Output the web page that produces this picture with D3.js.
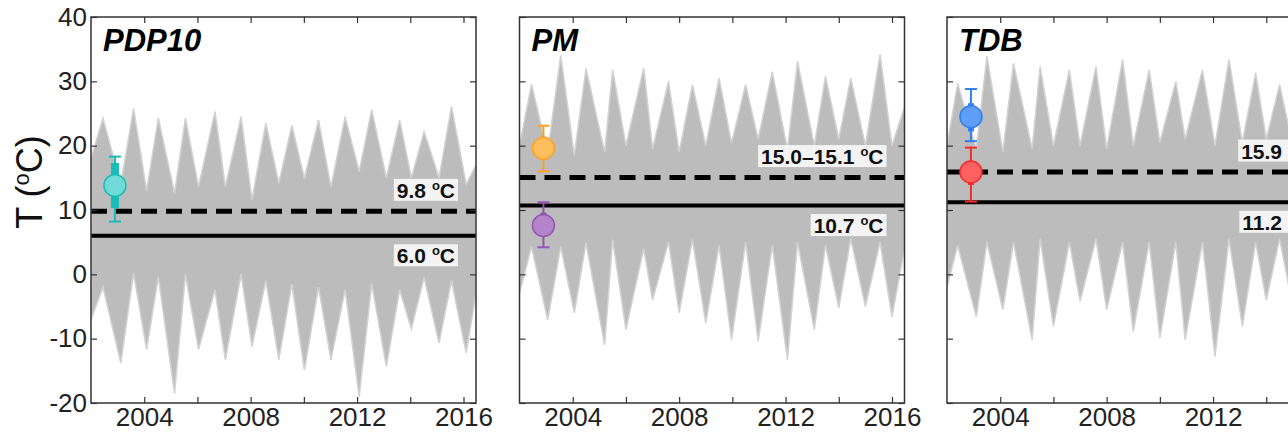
<!DOCTYPE html>
<html>
<head>
<meta charset="utf-8">
<script src="https://cdnjs.cloudflare.com/ajax/libs/d3/7.8.5/d3.min.js"></script>
<style>
body{margin:0;background:#fff;overflow:hidden}
svg{display:block;font-family:"Liberation Sans",Arial,sans-serif}
</style>
</head>
<body>
<svg width="1288" height="432"></svg>
<script>
// panel names
var panelNames=["PDP10","PM","TDB"];

// grey temperature band: decimal year, upper and lower edge (deg C)
var times1=[2002.0,2002.45,2003.12,2003.6,2004.09,2004.53,2005.14,2005.55,2006.04,2006.66,2007.05,2007.64,2008.05,2008.57,2009.06,2009.55,2010.02,2010.55,2011.02,2011.55,2012.08,2012.55,2013.1,2013.6,2014.04,2014.52,2015.08,2015.55,2016.1,2016.47];
var upper1=[18,24.3,14,25.8,13,24.3,12.6,24.3,13.6,25.3,13.6,24.5,11.6,23.5,14.2,23.2,14.9,24,13.6,24.5,16,25.6,15,24,15,22.2,15,26.1,14,17];
var lower1=[-7,-2,-13.8,0.2,-11.7,-0.4,-18.5,0,-11.7,-2.4,-13.3,0,-11.2,-1,-13.3,-1.5,-14.9,-2,-13.3,-2.4,-19,-1.5,-14.3,-2.4,-8.5,-0.5,-10.7,-1,-12.2,-3];

var times2=[2002.0,2002.45,2003.06,2003.55,2004.06,2004.5,2005.2,2005.5,2006.0,2006.67,2007.0,2007.6,2008.0,2008.5,2009.0,2009.5,2009.97,2010.5,2010.97,2011.5,2012.07,2012.45,2013.08,2013.5,2014.0,2014.45,2015.0,2015.55,2016.0,2016.47];
var upper2=[20,29.5,19,34,18.5,32,19,31.8,20,32.1,19.5,30,19,29.5,20,30.5,20.4,29.5,21,31.5,19.4,33.1,20,30.8,21,30.5,20,34.2,20,26];
var lower2=[-3,4.3,-7.1,4.3,-6,4.9,-11,5.4,-8.6,4,-4,5,-6,5.4,-7.6,4.5,-10.2,5,-10.4,4.5,-13.3,5,-8.6,4.5,-5.2,5.5,-5,5,-6.6,4];

var times3=[2002.0,2002.4,2003.1,2003.5,2004.1,2004.5,2005.2,2005.5,2006.0,2006.6,2007.0,2007.6,2008.0,2008.6,2009.0,2009.6,2010.0,2010.6,2010.95,2011.6,2012.07,2012.6,2013.1,2013.6,2014.0,2014.5,2015.0,2015.55,2016.0,2016.47];
var upper3=[20,29.7,19.5,33.9,19,32.8,19.5,32.3,20,31.8,20,32.3,19.5,33.4,20,31.8,20.5,30,21,31.8,20,33.4,20.5,31.3,21,29.5,20,34,20,26];
var lower3=[-2,4.5,-6.6,5,-5.5,5,-10.2,5.5,-8.1,5,-4.2,5.5,-5.5,5,-8.9,5,-9.9,5,-10.2,5,-12.8,5.5,-8.1,5,-4,5.5,-5,5,-6.5,4];

// reference lines
var dashedVals=[9.8,15.05,15.9];
var solidVals=[6.0,10.7,11.2];
var dashedLabels=["9.8 ","15.0\u201315.1 ","15.9 "];
var solidLabels=["6.0 ","10.7 ","11.2 "];

// points with error bars
var pointPanel=[0,1,1,2,2];
var pointYear=[2002.9,2002.9,2002.9,2002.9,2002.9];
var pointMean=[13.8,19.6,7.6,24.5,15.9];
var pointBoxLo=[10.3,17.8,6.1,22.2,13.9];
var pointBoxHi=[17.3,21.4,9.6,26.6,17.5];
var pointWhiskLo=[8.2,16.0,4.2,20.7,11.3];
var pointWhiskHi=[18.3,23.1,11.2,28.8,19.7];

// ticks
var yearTicks=[2004,2006,2008,2010,2012,2014,2016];
var yearLabels=[2004,2008,2012,2016];
var tempTicks=[-20,-10,0,10,20,30,40];

window.onload=function()
{
	var top=17, bottom=403, panelW=385;
	var panelLeft=[91,519.5,947];
	var allTimes=[times1,times2,times3], allUpper=[upper1,upper2,upper3], allLower=[lower1,lower2,lower3];
	var pointFill=["#6fdad6","#ffbe5e","#b483c9","#5e9ef7","#ff6161"];
	var pointLine=["#17bdb6","#f7a325","#9256ad","#2f7ff0","#f22b2b"];

	var svg=d3.select("svg");
	var y=d3.scaleLinear().domain([-20,40]).range([bottom,top]);

	function degText(t,prefix,fs,sup,shift)
	{
		t.append("tspan").text(prefix);
		t.append("tspan").attr("font-size",sup).attr("dy",-shift).text("o");
		t.append("tspan").attr("dy",shift).text("C");
	}

	panelNames.forEach(function(name,p)
	{
		var left=panelLeft[p];
		var x=d3.scaleLinear().domain([2002,2016.47]).range([left,left+panelW]);
		var g=svg.append("g");

		g.append("clipPath").attr("id","clip"+p)
			.append("rect").attr("x",left).attr("y",top).attr("width",panelW).attr("height",bottom-top);

		var times=allTimes[p], up=allUpper[p], lo=allLower[p];
		var area=d3.area()
			.x(function(i){return x(times[i]);})
			.y0(function(i){return y(lo[i]);})
			.y1(function(i){return y(up[i]);});
		g.append("path").datum(d3.range(times.length))
			.attr("d",area)
			.attr("fill","#bcbcbc")
			.attr("stroke","#d2d2d2")
			.attr("stroke-width",1.5)
			.attr("clip-path","url(#clip"+p+")");

		// reference lines
		g.append("line").attr("x1",left).attr("x2",left+panelW)
			.attr("y1",y(dashedVals[p])).attr("y2",y(dashedVals[p]))
			.attr("stroke","#000").attr("stroke-width",5).attr("stroke-dasharray","16,9");
		g.append("line").attr("x1",left).attr("x2",left+panelW)
			.attr("y1",y(solidVals[p])).attr("y2",y(solidVals[p]))
			.attr("stroke","#000").attr("stroke-width",4);

		// labels with a pale box behind
		[[dashedLabels[p],y(dashedVals[p])-21],[solidLabels[p],y(solidVals[p])+20]].forEach(function(l)
		{
			var lg=g.append("g");
			var t=lg.append("text").attr("x",left+panelW-21).attr("y",l[1]).attr("dy","0.36em")
				.attr("text-anchor","end").attr("font-weight","bold").attr("font-size",21).attr("fill","#111");
			degText(t,l[0],21,13,8);
			var b=t.node().getBBox();
			lg.insert("rect","text").attr("x",b.x-3).attr("y",b.y+1).attr("width",b.width+6).attr("height",b.height-2)
				.attr("fill","#fff").attr("fill-opacity",0.82);
		});

		// points
		pointPanel.forEach(function(pp,i)
		{
			if(pp!=p) return;
			var px=x(pointYear[i]);
			g.append("line").attr("x1",px).attr("x2",px).attr("y1",y(pointWhiskLo[i])).attr("y2",y(pointWhiskHi[i]))
				.attr("stroke",pointLine[i]).attr("stroke-width",2);
			[pointWhiskLo[i],pointWhiskHi[i]].forEach(function(v)
			{
				g.append("line").attr("x1",px-6).attr("x2",px+6).attr("y1",y(v)).attr("y2",y(v))
					.attr("stroke",pointLine[i]).attr("stroke-width",2);
			});
			g.append("line").attr("x1",px).attr("x2",px).attr("y1",y(pointBoxLo[i])).attr("y2",y(pointBoxHi[i]))
				.attr("stroke",pointLine[i]).attr("stroke-width",p==0?8:6);
			g.append("circle").attr("cx",px).attr("cy",y(pointMean[i])).attr("r",11)
				.attr("fill",pointFill[i]).attr("stroke",pointLine[i]).attr("stroke-width",1.5);
		});

		// frame and axes
		g.append("rect").attr("x",left).attr("y",top).attr("width",panelW).attr("height",bottom-top)
			.attr("fill","none").attr("stroke","#333").attr("stroke-width",1.5);

		var xb=g.append("g").attr("transform","translate(0,"+bottom+")")
			.call(d3.axisBottom(x).tickValues(yearTicks).tickSizeInner(-6).tickSizeOuter(0).tickPadding(5)
				.tickFormat(function(d){return yearLabels.indexOf(d)>=0?d:"";}));
		var xt=g.append("g").attr("transform","translate(0,"+top+")")
			.call(d3.axisTop(x).tickValues(yearTicks).tickSizeInner(-6).tickSizeOuter(0).tickFormat(""));
		var yl=g.append("g").attr("transform","translate("+left+",0)")
			.call(d3.axisLeft(y).tickValues(tempTicks).tickSizeInner(-6).tickSizeOuter(0).tickPadding(4)
				.tickFormat(function(d){return p==0?d:"";}));
		var yr=g.append("g").attr("transform","translate("+(left+panelW)+",0)")
			.call(d3.axisRight(y).tickValues(tempTicks).tickSizeInner(-6).tickSizeOuter(0).tickFormat(""));
		[xb,xt,yl,yr].forEach(function(a)
		{
			a.select(".domain").remove();
			a.selectAll("line").attr("stroke","#333").attr("stroke-width",1.2);
			a.selectAll("text").attr("font-size",26).attr("fill","#222").attr("font-family","Liberation Sans, Arial, sans-serif");
		});

		// panel title
		g.append("text").attr("x",left+12).attr("y",51)
			.attr("font-size",31).attr("font-weight","bold").attr("font-style","italic").attr("fill","#000")
			.text(name);
	});

	// y axis title
	var yt=svg.append("text").attr("transform","translate(42,182) rotate(-90)")
		.attr("text-anchor","middle").attr("font-size",36).attr("fill","#111");
	degText(yt,"T (",36,22,13);
	yt.append("tspan").text(")");
}
</script>
</body>
</html>
